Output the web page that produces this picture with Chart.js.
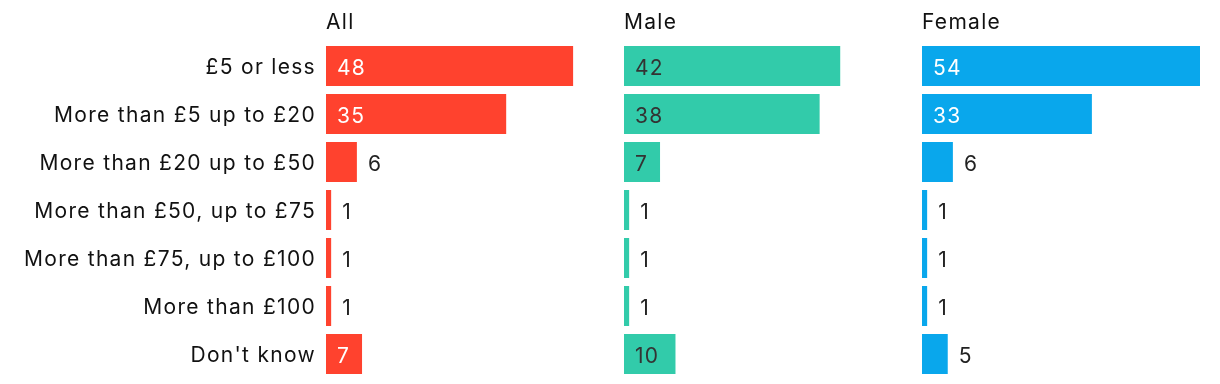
<!DOCTYPE html>
<html>
<head>
<meta charset="utf-8">
<script src="https://cdn.jsdelivr.net/npm/chart.js@4"></script>
<style>
  body { margin: 0; background: #fff; }
  #wrap { position: relative; width: 1220px; height: 384px; }
  .panel { position: absolute; top: 0; height: 384px; }
</style>
</head>
<body>
<div id="wrap">
  <div class="panel" style="left:0;width:604px"><canvas id="cAll"></canvas></div>
  <div class="panel" style="left:624px;width:278px"><canvas id="cMale"></canvas></div>
  <div class="panel" style="left:922px;width:278px"><canvas id="cFemale"></canvas></div>
</div>
<script>
// Datos
const categorias = ['£5 or less', 'More than £5 up to £20', 'More than £20 up to £50',
  'More than £50, up to £75', 'More than £75, up to £100', 'More than £100', "Don't know"];
const valoresAll = [48, 35, 6, 1, 1, 1, 7];
const valoresMale = [42, 38, 7, 1, 1, 1, 10];
const valoresFemale = [54, 33, 6, 1, 1, 1, 5];
const escalaMax = 54;

const FONT = 'Inter, "Noto Sans", sans-serif';
const TAM = 21;
const ESPACIADO = '1.3px';

// Plugin para el título y las etiquetas de valor
const etiquetas = {
  id: 'etiquetas',
  beforeDraw(chart) {
    chart.ctx.letterSpacing = ESPACIADO;
  },
  afterDatasetsDraw(chart, args, opts) {
    const ctx = chart.ctx;
    const area = chart.chartArea;
    ctx.save();
    ctx.letterSpacing = ESPACIADO;
    ctx.font = TAM + 'px ' + FONT;
    ctx.fillStyle = '#111';
    ctx.textAlign = 'left';
    ctx.textBaseline = 'middle';
    ctx.fillText(opts.titulo, area.left, 23);

    const meta = chart.getDatasetMeta(0);
    const data = chart.data.datasets[0].data;
    meta.data.forEach((bar, i) => {
      const v = data[i];
      if (v >= 7) {
        ctx.fillStyle = opts.colorDentro;
        ctx.fillText(String(v), bar.base + 11, bar.y + 2.5);
      } else {
        ctx.fillStyle = '#222';
        ctx.fillText(String(v), bar.x + 11, bar.y + 2.5);
      }
    });
    ctx.restore();
  }
};

function crearGrafico(id, valores, color, titulo, colorDentro, conEtiquetas) {
  new Chart(document.getElementById(id), {
    type: 'bar',
    data: {
      labels: categorias,
      datasets: [{
        data: valores,
        backgroundColor: color,
        borderWidth: 0,
        barPercentage: 0.833,
        categoryPercentage: 1.0
      }]
    },
    options: {
      indexAxis: 'y',
      responsive: true,
      maintainAspectRatio: false,
      animation: false,
      layout: { padding: { top: 42, bottom: 6, left: 0, right: 0 } },
      plugins: {
        legend: { display: false },
        tooltip: { enabled: false },
        etiquetas: { titulo: titulo, colorDentro: colorDentro }
      },
      scales: {
        x: { display: false, min: 0, max: escalaMax },
        y: {
          display: conEtiquetas,
          grid: { display: false, drawTicks: false },
          border: { display: false },
          ticks: {
            padding: 10,
            labelOffset: 2,
            color: '#111',
            font: { family: FONT, size: TAM }
          },
          afterFit(scale) {
            if (conEtiquetas) scale.width = 326;
            scale.paddingTop = 0;
            scale.paddingBottom = 0;
          }
        }
      }
    },
    plugins: [etiquetas]
  });
}

crearGrafico('cAll', valoresAll, 'rgb(255,66,46)', 'All', '#fff', true);
crearGrafico('cMale', valoresMale, 'rgb(50,203,170)', 'Male', '#333', false);
crearGrafico('cFemale', valoresFemale, 'rgb(9,167,236)', 'Female', '#fff', false);
</script>
</body>
</html>
